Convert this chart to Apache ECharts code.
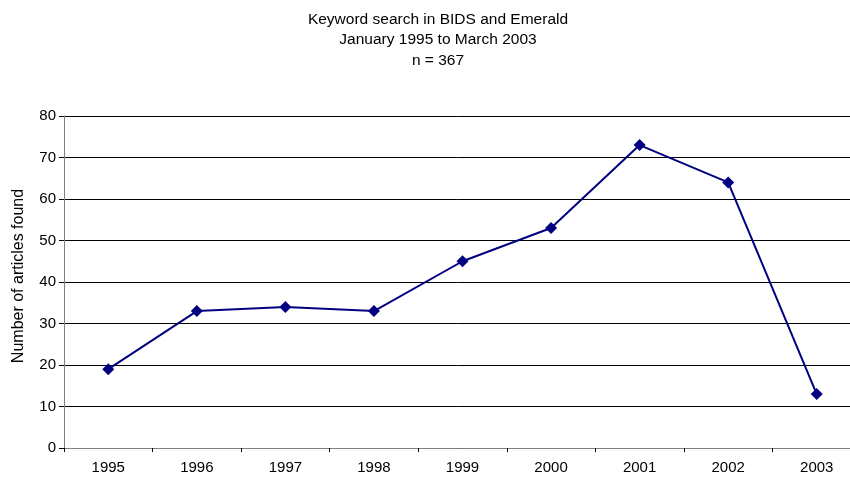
<!DOCTYPE html>
<html><head><meta charset="utf-8">
<script src="https://cdn.jsdelivr.net/npm/echarts@6/dist/echarts.min.js"></script>
<style>html,body{margin:0;padding:0;background:#fff}#c{width:850px;height:479px}</style>
</head><body><div id="c"></div>
<script>
var categories = ['1995','1996','1997','1998','1999','2000','2001','2002','2003'];
var articles = [19, 33, 34, 33, 45, 53, 73, 64, 13];
var titleLines = ['Keyword search in BIDS and Emerald', 'January 1995 to March 2003', 'n = 367'];
var yAxisName = 'Number of articles found';

var chart = echarts.init(document.getElementById('c'), null, {renderer:'canvas'});
chart.setOption({
  animation: false,
  backgroundColor: '#fff',
  textStyle: {fontFamily: 'Liberation Sans, Arial, sans-serif'},
  title: {
    text: titleLines.join('\n'),
    left: 433, top: 4, textAlign: 'center',
    textStyle: {fontSize: 15.5, fontWeight: 'normal', color: '#000', lineHeight: 20.5, fontFamily: 'Liberation Sans'}
  },
  grid: {left: 64, width: 797, top: 116, height: 332, containLabel: false, outerBoundsMode: 'none'},
  xAxis: {
    type: 'category', data: categories, boundaryGap: true,
    axisLine: {lineStyle: {color: '#808080', width: 1}},
    axisTick: {show: true, length: 4, inside: false, lineStyle: {color: '#000'}},
    axisLabel: {color: '#000', fontSize: 15, margin: 12, fontFamily: 'Liberation Sans'},
    splitLine: {show: false}
  },
  yAxis: {
    type: 'value', min: 0, max: 80, interval: 10,
    name: yAxisName, nameLocation: 'middle', nameGap: 37, nameRotate: 90,
    nameTextStyle: {color: '#000', fontSize: 16, fontFamily: 'Liberation Sans', padding: [0, 0, 0, 12]},
    axisLine: {show: true, lineStyle: {color: '#808080', width: 1}},
    axisTick: {show: true, length: 5, lineStyle: {color: '#000'}},
    axisLabel: {color: '#000', fontSize: 15, margin: 8, fontFamily: 'Liberation Sans'},
    splitLine: {show: true, lineStyle: {color: '#000', width: 1}}
  },
  series: [{
    type: 'line', data: articles,
    symbol: 'diamond', symbolSize: 12,
    lineStyle: {color: '#000080', width: 2},
    itemStyle: {color: '#000080'}
  }]
});
</script></body></html>
